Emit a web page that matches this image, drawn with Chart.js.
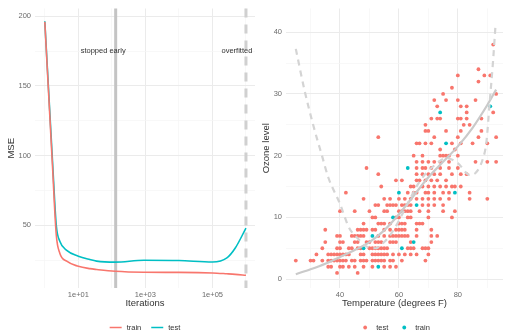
<!DOCTYPE html>
<html>
<head>
<meta charset="utf-8">
<script src="https://cdn.jsdelivr.net/npm/chart.js@4.4.1/dist/chart.umd.min.js"></script>
<style>
  html, body { margin: 0; padding: 0; background: #fff; }
  #wrap { position: relative; width: 507px; height: 330px; overflow: hidden; }
  #left { position: absolute; left: 0; top: 0; }
  #right { position: absolute; left: 258px; top: 0; }
</style>
</head>
<body>
<div id="wrap">
  <canvas id="left" width="258" height="330"></canvas>
  <canvas id="right" width="249" height="330"></canvas>
</div>
<script>
// ---- left panel: MSE by iteration (log x) ----
var iterations = [1, 1.7, 2.2, 2.8, 4.5, 10, 22, 35, 125, 900, 10000, 100000, 270000, 480000, 1000000];
var trainMse = [196, 92, 43, 30, 24.2, 20.6, 18.9, 18.3, 17, 16.3, 16.2, 15.8, 15.2, 14.8, 14.1];
var testMse = [196.5, 96, 50, 38.5, 32, 27.8, 25.4, 24.3, 23.6, 24.9, 24.7, 23.7, 26.6, 33.7, 48];
var iterTicks = [1, 10, 100, 1000, 10000, 100000, 1000000];
var mseTicks = [25, 50, 75, 100, 125, 150, 175, 200];
var stopEarlyAt = 130;
var overfitAt = 1000000;
var noteLabels = ['stopped early', 'overfitted'];
var noteAt = [55, 537000];
var noteY = 175;

// ---- right panel: ozone vs temperature ----
// test points, one entry per ozone level: [ozone, temperatures...]
var testRows = [
  [38, 92], [34, 87], [33, 80, 89, 91], [32, 87], [31, 78], [30, 75, 93],
  [29, 72, 76, 80, 86], [28, 73, 81, 83], [27, 83, 92],
  [26, 71, 73, 74, 80, 81, 83, 88], [25, 69, 82, 84], [24, 69, 70, 76, 81, 88],
  [23, 53, 72, 80, 87, 93], [22, 66, 67, 69, 71, 78, 81, 85, 90], [21, 74, 79],
  [20, 65, 68, 74, 75, 76, 77, 80], [19, 66, 68, 70, 72, 74, 77, 86, 90, 93],
  [18, 49, 66, 68, 69, 71, 74, 77, 80], [17, 53, 66, 68, 70, 72, 74, 78, 81, 83],
  [16, 59, 61, 66, 67, 69, 71, 73, 76],
  [15, 54, 64, 65, 68, 70, 72, 74, 76, 78, 79, 81],
  [14, 42, 63, 65, 66, 69, 70, 72, 75, 77, 84],
  [13, 48, 55, 57, 60, 62, 64, 66, 68, 70, 72, 74, 77, 84, 90],
  [12, 52, 53, 56, 57, 58, 59, 61, 62, 63, 64, 68, 70, 72, 75],
  [11, 40, 45, 50, 55, 56, 60, 61, 62, 63, 64, 67, 70, 75, 79],
  [10, 51, 52, 59, 60, 63, 64, 70, 78],
  [9, 48, 53, 54, 55, 57, 60, 61, 62, 66, 67, 68],
  [8, 35, 46, 47, 48, 49, 51, 52, 55, 57, 59, 60, 61, 62, 66, 71],
  [7, 39, 40, 44, 45, 46, 47, 48, 53, 55, 57, 58, 59, 60, 61, 62, 63, 66, 71, 73],
  [6, 35, 40, 41, 45, 46, 49, 50, 52, 53, 54, 57, 58, 59, 64, 71],
  [5, 34, 39, 40, 43, 44, 46, 47, 50, 51, 52, 53, 54, 55, 56, 63, 64, 65, 68, 69, 70],
  [4, 32, 36, 37, 38, 39, 40, 41, 42, 43, 47, 48, 51, 52, 53, 54, 55, 56, 58, 60, 62, 64, 66, 70],
  [3, 25, 30, 31, 34, 36, 37, 38, 39, 40, 41, 42, 44, 45, 47, 48, 49, 51, 52, 53, 54, 55, 57, 58, 61, 69],
  [2, 36, 37, 40, 41, 43, 45, 48, 51, 55, 57, 59],
  [1, 39, 46]
];
var trainTemp = [63, 60, 79, 66, 58, 51, 48, 61, 65, 53, 74, 91, 76];
var trainOzone = [18, 14, 14, 12, 10, 7, 5, 5, 6, 2, 27, 28, 22];

// fitted curves
var earlyTemp = [25, 30, 35, 40, 45, 50, 55, 60, 65, 70, 75, 80, 85, 90, 93];
var earlyFit = [0.8, 1.6, 2.5, 3.6, 4.7, 6, 7.9, 10.5, 13.5, 16.5, 19, 21.5, 24.5, 28.2, 30.7];
var overTemp = [25, 28, 31, 34, 36, 40, 43, 46, 49, 52, 55, 58, 62, 67, 73, 76, 80, 84, 86, 88.5, 89.7, 90.8, 91.9, 92.8];
var overFit = [37.3, 30.5, 24.8, 19.8, 16.5, 12.2, 8.4, 6.6, 5.3, 5.0, 6.0, 7.8, 11.3, 15.8, 18.8, 19.6, 18.8, 16.9, 17.2, 19.5, 22.2, 28.6, 35, 41.2];
var tempTicks = [30, 40, 50, 60, 70, 80, 90];
var ozoneTicks = [0, 5, 10, 15, 20, 25, 30, 35, 40];

var RED = '#F8766D', TEAL = '#00BFC4';
var FONT = "'Liberation Sans', Arial, sans-serif";
Chart.defaults.font.family = FONT;
Chart.defaults.animation = false;

function pairs(xs, ys) {
  return xs.map(function(x, i) { return { x: x, y: ys[i] }; });
}

function gridFor(isMajor) {
  return {
    drawTicks: false,
    color: function(c) { return c.tick && isMajor(c.tick.value) ? '#ebebeb' : '#f5f5f5'; },
    lineWidth: function(c) { return c.tick && isMajor(c.tick.value) ? 1 : 0.7; }
  };
}

// legend drawn under the plot, ggplot style
var bottomLegend = {
  id: 'bottomLegend',
  afterDraw: function(chart) {
    var ctx = chart.ctx, area = chart.chartArea;
    var items = chart.data.datasets.filter(function(d) { return d.legendKey; });
    items.sort(function(a, b) { return a.legendOrder - b.legendOrder; });
    ctx.save();
    ctx.font = '7.5px ' + FONT;
    var keyW = 12, gap = 5, sep = 10, total = 0;
    items.forEach(function(d, i) {
      total += keyW + gap + ctx.measureText(d.label).width + (i < items.length - 1 ? sep : 0);
    });
    var x = (area.left + area.right) / 2 - total / 2, y = 327.5;
    items.forEach(function(d) {
      if (d.legendKey === 'line') {
        ctx.strokeStyle = d.borderColor;
        ctx.lineWidth = 1.5;
        ctx.beginPath(); ctx.moveTo(x, y); ctx.lineTo(x + keyW, y); ctx.stroke();
      } else {
        ctx.fillStyle = d.backgroundColor;
        ctx.beginPath(); ctx.arc(x + keyW / 2, y, 1.9, 0, Math.PI * 2); ctx.fill();
      }
      x += keyW + gap;
      ctx.fillStyle = '#333';
      ctx.textBaseline = 'middle';
      ctx.fillText(d.label, x, y);
      x += ctx.measureText(d.label).width + sep;
    });
    ctx.restore();
  }
};

// stop markers and their notes on the left panel
var stopMarkers = {
  id: 'stopMarkers',
  beforeDatasetsDraw: function(chart) {
    var ctx = chart.ctx, area = chart.chartArea, xs = chart.scales.x, ys = chart.scales.y;
    ctx.save();
    ctx.lineWidth = 3;
    ctx.strokeStyle = '#c4c4c4';
    var x1 = xs.getPixelForValue(stopEarlyAt);
    ctx.beginPath(); ctx.moveTo(x1, area.top); ctx.lineTo(x1, area.bottom); ctx.stroke();
    ctx.strokeStyle = '#d0d0d0';
    ctx.setLineDash([9, 7]);
    var x2 = xs.getPixelForValue(overfitAt);
    ctx.beginPath(); ctx.moveTo(x2, area.top); ctx.lineTo(x2, area.bottom); ctx.stroke();
    ctx.setLineDash([]);
    ctx.font = '7.5px ' + FONT;
    ctx.fillStyle = '#333';
    ctx.textAlign = 'center';
    ctx.textBaseline = 'middle';
    noteLabels.forEach(function(t, i) {
      ctx.fillText(t, xs.getPixelForValue(noteAt[i]), ys.getPixelForValue(noteY));
    });
    ctx.restore();
  }
};

new Chart(document.getElementById('left'), {
  type: 'scatter',
  data: {
    datasets: [
      { label: 'train', data: pairs(iterations, trainMse), showLine: true, borderColor: RED, borderWidth: 1.6,
        pointRadius: 0, cubicInterpolationMode: 'monotone', legendKey: 'line', legendOrder: 1 },
      { label: 'test', data: pairs(iterations, testMse), showLine: true, borderColor: TEAL, borderWidth: 1.6,
        pointRadius: 0, cubicInterpolationMode: 'monotone', legendKey: 'line', legendOrder: 2 }
    ]
  },
  options: {
    responsive: false,
    layout: { padding: { top: 5, right: 3, left: 0, bottom: 0 } },
    plugins: { legend: { display: false }, tooltip: { enabled: false } },
    scales: {
      x: {
        type: 'logarithmic', min: 0.51, max: 1.86e6,
        afterBuildTicks: function(axis) { axis.ticks = iterTicks.map(function(v) { return { value: v }; }); },
        afterFit: function(axis) { axis.height = 42; },
        border: { display: false },
        grid: gridFor(function(v) { return Math.round(Math.log10(v)) % 2 === 1; }),
        ticks: {
          autoSkip: false, maxRotation: 0, padding: 2, color: '#6b6b6b', font: { size: 7.5 },
          callback: function(v) {
            var e = Math.round(Math.log10(v));
            return e % 2 === 1 ? '1e+' + (e < 10 ? '0' : '') + e : '';
          }
        },
        title: { display: true, text: 'Iterations', color: '#333', font: { size: 9.5 }, padding: { top: 21, bottom: 21 } }
      },
      y: {
        min: 5, max: 205.6,
        afterBuildTicks: function(axis) { axis.ticks = mseTicks.map(function(v) { return { value: v }; }); },
        afterFit: function(axis) { axis.width = 35; },
        border: { display: false },
        grid: gridFor(function(v) { return v % 50 === 0; }),
        ticks: {
          padding: 4, color: '#6b6b6b', font: { size: 7.5 },
          callback: function(v) { return v % 50 === 0 ? String(v) : ''; }
        },
        title: { display: true, text: 'MSE', color: '#333', font: { size: 9.5 }, padding: { top: 6, bottom: 6 } }
      }
    }
  },
  plugins: [stopMarkers, bottomLegend]
});

var testPoints = [];
testRows.forEach(function(row) {
  for (var i = 1; i < row.length; i++) testPoints.push({ x: row[i], y: row[0] });
});

new Chart(document.getElementById('right'), {
  type: 'scatter',
  data: {
    datasets: [
      { label: 'overfit', data: pairs(overTemp, overFit), showLine: true, borderColor: '#d4d4d4', borderWidth: 2.2,
        borderDash: [6, 5], pointRadius: 0, cubicInterpolationMode: 'monotone' },
      { label: 'early', data: pairs(earlyTemp, earlyFit), showLine: true, borderColor: '#cacaca', borderWidth: 2.2,
        pointRadius: 0, cubicInterpolationMode: 'monotone' },
      { label: 'train', data: pairs(trainTemp, trainOzone), backgroundColor: TEAL, borderWidth: 0, pointRadius: 1.9,
        legendKey: 'point', legendOrder: 2 },
      { label: 'test', data: testPoints, backgroundColor: RED, borderWidth: 0, pointRadius: 1.9,
        legendKey: 'point', legendOrder: 1 }
    ]
  },
  options: {
    responsive: false,
    layout: { padding: { top: 5, right: 0, left: 0, bottom: 0 } },
    plugins: { legend: { display: false }, tooltip: { enabled: false } },
    scales: {
      x: {
        min: 21.67, max: 95.33,
        afterBuildTicks: function(axis) { axis.ticks = tempTicks.map(function(v) { return { value: v }; }); },
        afterFit: function(axis) { axis.height = 42; },
        border: { display: false },
        grid: gridFor(function(v) { return v % 20 === 0; }),
        ticks: {
          autoSkip: false, maxRotation: 0, padding: 2, color: '#6b6b6b', font: { size: 7.5 },
          callback: function(v) { return v % 20 === 0 ? String(v) : ''; }
        },
        title: { display: true, text: 'Temperature (degrees F)', color: '#333', font: { size: 9.5 }, padding: { top: 21, bottom: 21 } }
      },
      y: {
        min: -1.44, max: 43.84,
        afterBuildTicks: function(axis) { axis.ticks = ozoneTicks.map(function(v) { return { value: v }; }); },
        afterFit: function(axis) { axis.width = 28; },
        border: { display: false },
        grid: gridFor(function(v) { return v % 10 === 0; }),
        ticks: {
          padding: 4, color: '#6b6b6b', font: { size: 7.5 },
          callback: function(v) { return v % 10 === 0 ? String(v) : ''; }
        },
        title: { display: true, text: 'Ozone level', color: '#333', font: { size: 9.5 }, padding: { top: 2.3, bottom: 2.3 } }
      }
    }
  },
  plugins: [bottomLegend]
});
</script>
</body>
</html>
